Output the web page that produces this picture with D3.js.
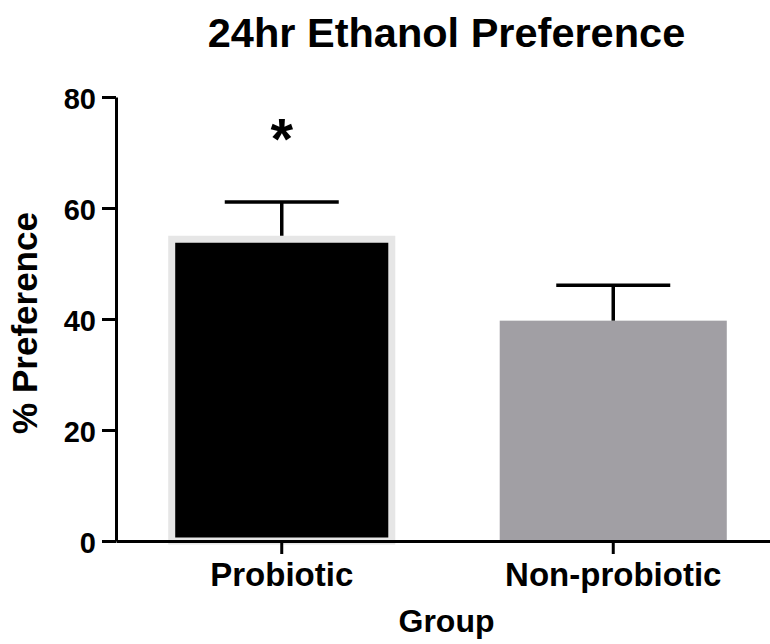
<!DOCTYPE html>
<html lang="en">
<head>
<meta charset="UTF-8">
<title>24hr Ethanol Preference</title>
<style>
  body { margin: 0; background: #fff; }
  svg  { display: block; }
  text { font-family: "Liberation Sans", Arial, sans-serif; font-weight: bold; fill: #000; }
  .axis path, .axis line { stroke: #000; stroke-width: 3; }
</style>
</head>
<body>
<svg id="chart" width="770" height="644"></svg>

<script src="https://d3js.org/d3.v7.min.js"></script>
<script>
/* ---------------- Data ---------------- */
const groups  = ['Probiotic', 'Non-probiotic'];
const means   = [55.0, 39.7];
const sems    = [6.1, 6.4];
const yTicks  = [0, 20, 40, 60, 80];
const signif  = ['*', ''];

/* ---------------- Layout ---------------- */
const svg = d3.select('#chart');
const x0 = 116, yBase = 541, yTop = 97;

const y = d3.scaleLinear().domain([0, 80]).range([yBase, yTop]);
const x = d3.scaleBand().domain(groups)
  .range([x0, x0 + 663])
  .paddingInner(0.315).paddingOuter(0.1575);

const fills   = ['#000000', '#a19fa4'];
const borders = ['#e6e6e6', 'none'];

/* ---------------- Bars ---------------- */
const bars = groups.map((g, i) => ({g, m: means[i], s: sems[i], star: signif[i], i}));

svg.append('g').selectAll('rect')
  .data(bars)
  .enter().append('rect')
    .attr('x', d => d.i === 0 ? x(d.g) + 3.5 : x(d.g))
    .attr('y', d => d.i === 0 ? y(d.m) + 3.5 : y(d.m))
    .attr('width', d => d.i === 0 ? x.bandwidth() - 7 : x.bandwidth())
    .attr('height', d => d.i === 0 ? yBase - y(d.m) - 3.5 : yBase - y(d.m))
    .attr('fill', d => fills[d.i])
    .attr('stroke', d => borders[d.i])
    .attr('stroke-width', 7);

/* ---------------- Error bars ---------------- */
const cx = d => x(d.g) + x.bandwidth() / 2;
const err = svg.append('g').attr('stroke', '#000').attr('stroke-width', 3.5);
err.selectAll('line.v').data(bars).enter().append('line')
  .attr('x1', cx).attr('x2', cx)
  .attr('y1', d => y(d.m)).attr('y2', d => y(d.m + d.s));
err.selectAll('line.c').data(bars).enter().append('line')
  .attr('x1', d => cx(d) - 57).attr('x2', d => cx(d) + 57)
  .attr('y1', d => y(d.m + d.s)).attr('y2', d => y(d.m + d.s));

/* ---------------- Significance ---------------- */
svg.append('g').selectAll('text')
  .data(bars.filter(d => d.star))
  .enter().append('text')
    .attr('x', cx)
    .attr('y', d => y(d.m + d.s) - 43)
    .attr('text-anchor', 'middle')
    .style('font-size', '58px')
    .text(d => d.star);

/* ---------------- Axes ---------------- */
const yAxis = svg.append('g').attr('class', 'axis')
  .attr('transform', `translate(${x0},0)`)
  .call(d3.axisLeft(y).tickValues(yTicks).tickSize(14).tickSizeOuter(0).tickPadding(6));
yAxis.selectAll('text').style('font-size', '29px').attr('dy', '0.38em');

const xAxis = svg.append('g').attr('class', 'axis')
  .attr('transform', `translate(0,${yBase})`)
  .call(d3.axisBottom(x).tickSize(13).tickSizeOuter(0).tickPadding(9));
xAxis.selectAll('text').style('font-size', '33px');

/* ---------------- Titles ---------------- */
svg.append('text')
  .attr('x', 446.5).attr('y', 47)
  .attr('text-anchor', 'middle')
  .style('font-size', '41.5px')
  .text('24hr Ethanol Preference');

svg.append('text')
  .attr('x', 446.5).attr('y', 632)
  .attr('text-anchor', 'middle')
  .style('font-size', '32px')
  .text('Group');

svg.append('text')
  .attr('transform', 'translate(37,323) rotate(-90)')
  .attr('text-anchor', 'middle')
  .style('font-size', '35px')
  .text('% Preference');
</script>
</body>
</html>
